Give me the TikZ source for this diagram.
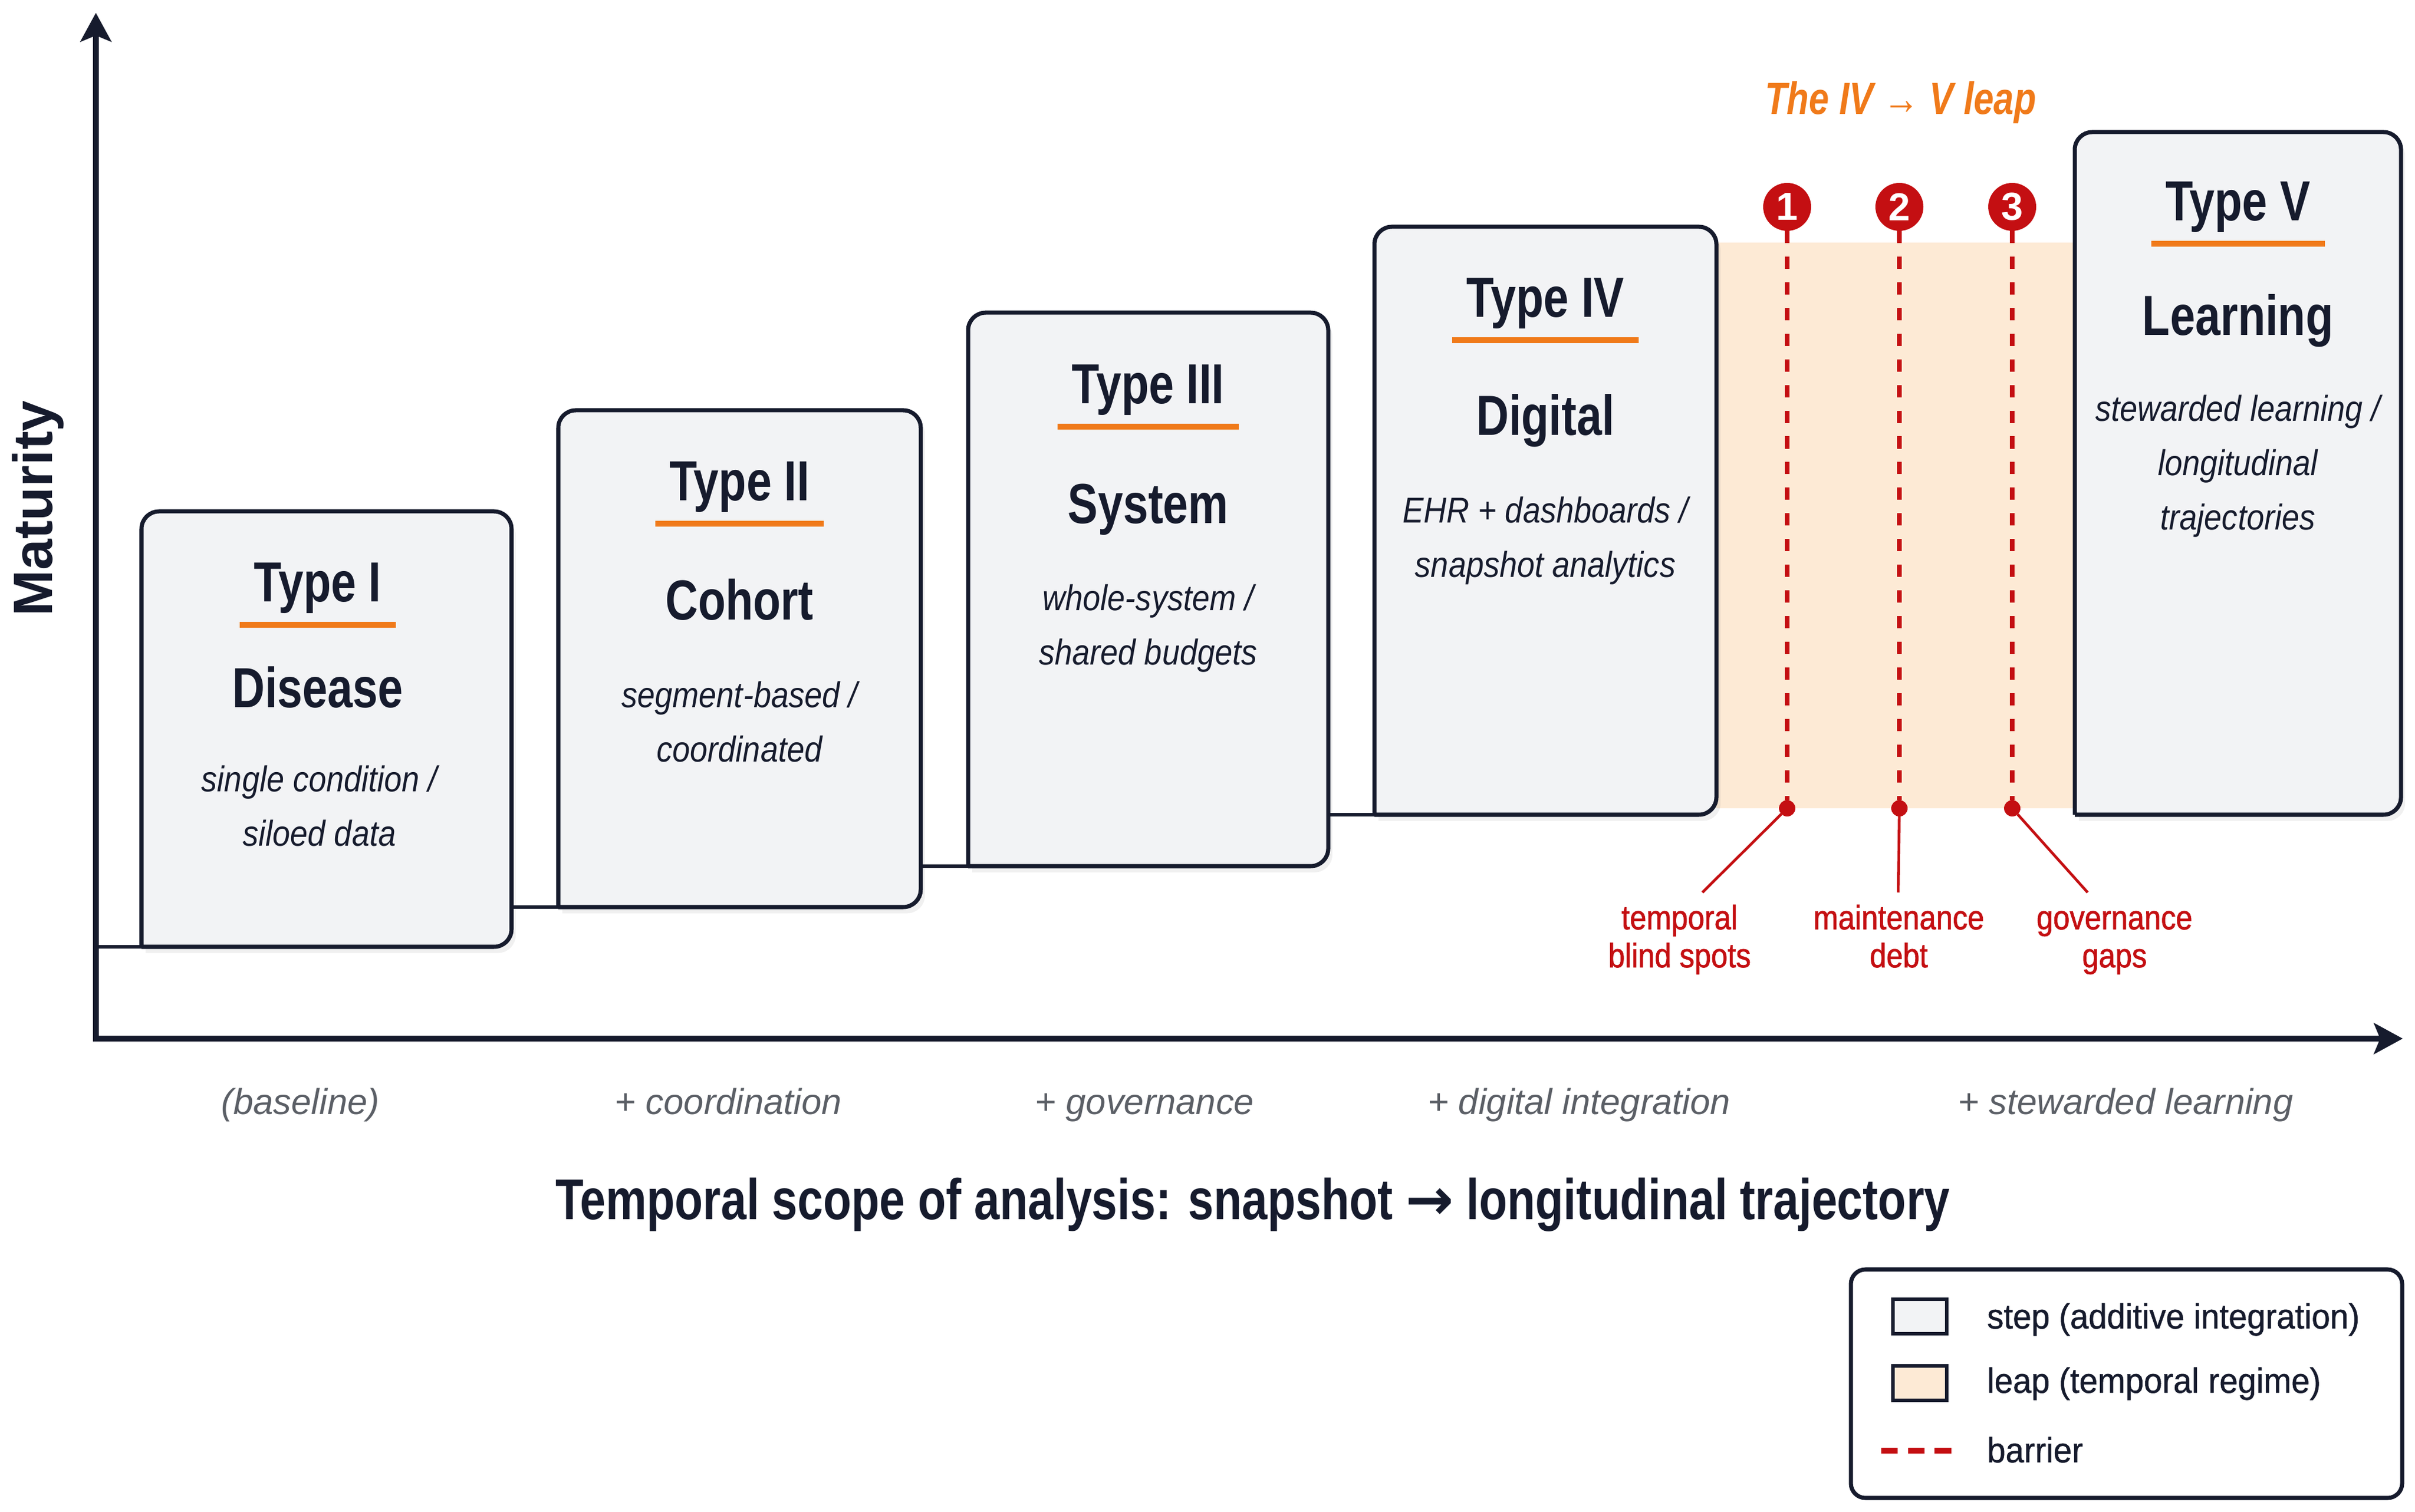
\documentclass[tikz,border=0pt]{standalone}
\usepackage{fontspec}
\setmainfont{Liberation Sans}[FakeStretch=0.88]
\newfontfamily\headfont{Liberation Sans}[FakeStretch=0.8]
\newfontfamily\axisfont{Liberation Sans}[FakeStretch=0.8]
\newfontfamily\medfont{Liberation Sans}[FakeStretch=0.88,FakeBold=1.2]
\newfontfamily\keyfont{Liberation Sans}[FakeStretch=0.95,FakeBold=0.8]
\newfontfamily\plainfont{Liberation Sans}
\newfontfamily\symfont{DejaVu Sans}
\usetikzlibrary{arrows.meta,shadows}
\definecolor{ink}{HTML}{161B2D}
\definecolor{stepfill}{HTML}{F2F3F5}
\definecolor{leapfill}{HTML}{FDEAD5}
\definecolor{accent}{HTML}{F07A1A}
\definecolor{barrier}{HTML}{C40F12}
\definecolor{labgray}{HTML}{5B5F66}

\begin{document}
\begin{tikzpicture}
\useasboundingbox (0,0) rectangle (41.31,25.86);
\tikzstyle{every node}=[inner sep=0pt, outer sep=0pt]
\tikzstyle{axis}=[draw=ink, line width=2.6pt, {Stealth[length=14pt,width=15pt,inset=3pt]}-{Stealth[length=14pt,width=15pt,inset=3pt]}]
\tikzstyle{slot}=[anchor=south west]
\tikzstyle{stepbox}=[draw=ink, line width=2pt, fill=stepfill, rounded corners=0.3cm, line cap=square, drop shadow={opacity=0.12, shadow xshift=2pt, shadow yshift=-3pt}]
\tikzstyle{stepline}=[draw=ink, line width=1.6pt]
\tikzstyle{leapzone}=[anchor=south west, fill=leapfill, minimum width=6.13cm, minimum height=9.68cm]
\tikzstyle{typelbl}=[anchor=base, text=ink, inner xsep=7pt, font=\headfont\bfseries\fontsize{27.5}{30}\selectfont]
\tikzstyle{underl}=[draw=accent, line width=2.6pt]
\tikzstyle{namelbl}=[anchor=base, text=ink, font=\headfont\bfseries\fontsize{27.5}{30}\selectfont]
\tikzstyle{desclbl}=[anchor=north, align=center, text=ink, font=\itshape\fontsize{17.5}{26.5}\selectfont]
\tikzstyle{marker}=[circle, fill=barrier, minimum size=0.82cm, text=white, font=\plainfont\bfseries\fontsize{19}{20}\selectfont]
\tikzstyle{pin}=[circle, fill=barrier, minimum size=0.28cm]
\tikzstyle{barrierline}=[draw=barrier, line width=2.1pt, dash pattern=on 6pt off 6.5pt]
\tikzstyle{leader}=[draw=barrier, line width=1.3pt]
\tikzstyle{barlbl}=[anchor=north, align=center, text=barrier, font=\medfont\fontsize{16.5}{18.5}\selectfont]
\tikzstyle{ticklbl}=[anchor=base, text=labgray, font=\plainfont\itshape\fontsize{17.5}{19}\selectfont]
\tikzstyle{axistitle}=[anchor=base, text=ink, font=\axisfont\bfseries\fontsize{28}{30}\selectfont]
\tikzstyle{legbox}=[draw=ink, line width=2pt, fill=white, rounded corners=0.25cm, minimum width=9.43cm, minimum height=3.91cm]
\tikzstyle{swatch}=[draw=ink, line width=1.8pt, minimum width=0.92cm, minimum height=0.59cm]
\tikzstyle{legtxt}=[anchor=base west, text=ink, font=\keyfont\fontsize{17}{19}\selectfont]
\tikzstyle{barrierkey}=[draw=barrier, line width=2.6pt, dash pattern=on 8pt off 5pt]

\coordinate (origin) at (1.64,8.09);
\coordinate (ytop) at (1.64,25.64);
\coordinate (xend) at (41.10,8.09);

\node[leapzone] (leap) at (29.36,12.03) {};

\node[slot, minimum width=6.33cm, minimum height=7.45cm] (t1) at (2.42,9.66) {};
\node[slot, minimum width=6.20cm, minimum height=8.50cm] (t2) at (9.55,10.34) {};
\node[slot, minimum width=6.16cm, minimum height=9.47cm] (t3) at (16.56,11.04) {};
\node[slot, minimum width=5.85cm, minimum height=10.06cm] (t4) at (23.51,11.92) {};
\node[slot, minimum width=5.58cm, minimum height=11.68cm] (t5) at (35.49,11.92) {};

\draw[stepbox] (t1.south west) -- (t1.north west) -- (t1.north east) -- (t1.south east) -- (t1.south west);
\draw[stepbox] (t2.south west) -- (t2.north west) -- (t2.north east) -- (t2.south east) -- (t2.south west);
\draw[stepbox] (t3.south west) -- (t3.north west) -- (t3.north east) -- (t3.south east) -- (t3.south west);
\draw[stepbox] (t4.south west) -- (t4.north west) -- (t4.north east) -- (t4.south east) -- (t4.south west);
\draw[stepbox] (t5.south west) -- (t5.north west) -- (t5.north east) -- (t5.south east) -- (t5.south west);

\draw[stepline] (origin |- t1.south west) -- (t1.south west);
\draw[stepline] (t1.east |- t2.south) -- (t2.south west);
\draw[stepline] (t2.east |- t3.south) -- (t3.south west);
\draw[stepline] (t3.east |- t4.south) -- (t4.south west);

\draw[axis] (ytop) -- (origin) -- (xend);

\node[typelbl] (ty1) at ([xshift=-0.15cm,yshift=-1.55cm]t1.north) {Type I};
\draw[underl] ([yshift=-0.39cm]ty1.base west) -- ([yshift=-0.39cm]ty1.base east);
\node[namelbl] (nm1) at ([xshift=-0.15cm,yshift=-3.36cm]t1.north) {Disease};
\node[desclbl] (ds1) at ([xshift=-0.12cm,yshift=-4.35cm]t1.north) {single condition /\\siloed data};

\node[typelbl] (ty2) at ([yshift=-1.55cm]t2.north) {Type II};
\draw[underl] ([yshift=-0.39cm]ty2.base west) -- ([yshift=-0.39cm]ty2.base east);
\node[namelbl] (nm2) at ([yshift=-3.59cm]t2.north) {Cohort};
\node[desclbl] (ds2) at ([yshift=-4.64cm]t2.north) {segment-based /\\coordinated};

\node[typelbl] (ty3) at ([yshift=-1.56cm]t3.north) {Type III};
\draw[underl] ([yshift=-0.39cm]ty3.base west) -- ([yshift=-0.39cm]ty3.base east);
\node[namelbl] (nm3) at ([yshift=-3.61cm]t3.north) {System};
\node[desclbl] (ds3) at ([yshift=-4.65cm]t3.north) {whole-system /\\shared budgets};

\node[typelbl] (ty4) at ([yshift=-1.55cm]t4.north) {Type IV};
\draw[underl] ([yshift=-0.39cm]ty4.base west) -- ([yshift=-0.39cm]ty4.base east);
\node[namelbl] (nm4) at ([yshift=-3.57cm]t4.north) {Digital};
\node[desclbl] (ds4) at ([yshift=-4.62cm]t4.north) {EHR + dashboards /\\snapshot analytics};

\node[typelbl] (ty5) at ([yshift=-1.52cm]t5.north) {Type V};
\draw[underl] ([yshift=-0.39cm]ty5.base west) -- ([yshift=-0.39cm]ty5.base east);
\node[namelbl] (nm5) at ([yshift=-3.48cm]t5.north) {Learning};
\node[desclbl] (ds5) at ([yshift=-4.50cm]t5.north) {stewarded learning /\\longitudinal\\trajectories};

\node[anchor=base, text=accent, font=\headfont\bfseries\itshape\fontsize{22}{24}\selectfont] (leaptitle) at (32.51,23.90) {The IV → V leap};

\node[marker] (m1) at (30.57,22.32) {1};
\node[marker] (m2) at (32.49,22.32) {2};
\node[marker] (m3) at (34.42,22.32) {3};
\node[pin] (p1) at (m1 |- leap.south) {};
\node[pin] (p2) at (m2 |- leap.south) {};
\node[pin] (p3) at (m3 |- leap.south) {};
\draw[barrierline] (m1) -- (p1);
\draw[barrierline] (m2) -- (p2);
\draw[barrierline] (m3) -- (p3);

\coordinate (e1) at (29.12,10.59);
\coordinate (e2) at (32.47,10.59);
\coordinate (e3) at (35.71,10.59);
\draw[leader] (p1) -- (e1);
\draw[leader] (p2) -- (e2);
\draw[leader] (p3) -- (e3);
\node[barlbl] (bl1) at (28.73,10.38) {temporal\\blind spots};
\node[barlbl] (bl2) at (32.48,10.38) {maintenance\\debt};
\node[barlbl] (bl3) at (36.17,10.38) {\vphantom{l}governance\\gaps};

\node[ticklbl] (tk1) at (5.14,6.79) {(baseline)};
\node[ticklbl] (tk2) at (12.46,6.79) {+ coordination};
\node[ticklbl] (tk3) at (19.58,6.79) {+ governance};
\node[ticklbl] (tk4) at (27.01,6.79) {+ digital integration};
\node[ticklbl] (tk5) at (36.36,6.79) {+ stewarded learning};

\node[axistitle] (xtitle) at (21.43,4.99) {Temporal scope of analysis: snapshot {\symfont\bfseries →} longitudinal trajectory};
\node[rotate=90, text=ink, font=\plainfont\bfseries\fontsize{27}{30}\selectfont] (ytitle) at (0.65,17.16) {Maturity};

\node[legbox] (lgd) at (36.375,2.185) {};
\node[swatch, fill=stepfill] (swstep) at (32.84,3.335) {};
\node[swatch, fill=leapfill] (swleap) at (32.84,2.195) {};
\coordinate (keyl) at (32.18,1.04);
\coordinate (keyr) at (33.47,1.04);
\draw[barrierkey] (keyl) -- (keyr);
\node[legtxt] (lgstep) at (33.99,3.13) {step (additive integration)};
\node[legtxt] (lgleap) at (33.99,2.03) {leap (temporal regime)};
\node[legtxt] (lgbar) at (33.99,0.84) {barrier};
\end{tikzpicture}
\end{document}
